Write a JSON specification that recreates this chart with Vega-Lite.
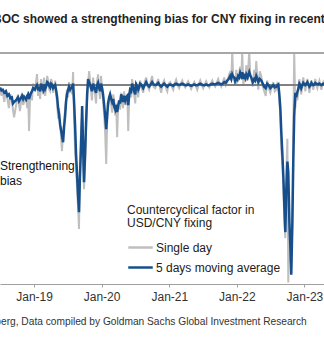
{
  "$schema": "https://vega.github.io/schema/vega-lite/v6.json",
  "autosize": "none",
  "width": 324,
  "height": 231,
  "padding": {"left": 0, "top": 53, "right": 0, "bottom": 58},
  "background": "white",
  "config": {"view": {"stroke": null}, "font": "Liberation Sans"},
  "title": {"text": "PBOC showed a strengthening bias for CNY fixing in recent months", "anchor": "start", "frame": "group", "dx": -15, "offset": 27, "fontSize": 12, "fontWeight": "bold", "font": "Liberation Sans", "color": "#222222"},
  "data": {"values": [
    {"date":"2018-07-01","g":-20,"b":-15},
    {"date":"2018-07-09","g":-70,"b":-35},
    {"date":"2018-07-16","g":-40,"b":-30},
    {"date":"2018-07-24","g":-110,"b":-50},
    {"date":"2018-08-02","g":-30,"b":-40},
    {"date":"2018-08-10","g":-90,"b":-70},
    {"date":"2018-08-18","g":-150,"b":-60},
    {"date":"2018-08-26","g":-60,"b":-85},
    {"date":"2018-09-03","g":-100,"b":-80},
    {"date":"2018-09-09","g":-160,"b":-120},
    {"date":"2018-09-15","g":-210,"b":-110},
    {"date":"2018-09-25","g":-140,"b":-100},
    {"date":"2018-10-06","g":-60,"b":-80},
    {"date":"2018-10-12","g":-130,"b":-105},
    {"date":"2018-10-17","g":-170,"b":-95},
    {"date":"2018-10-28","g":-50,"b":-70},
    {"date":"2018-11-03","g":-130,"b":-90},
    {"date":"2018-11-08","g":-110,"b":-75},
    {"date":"2018-11-19","g":-90,"b":-95},
    {"date":"2018-11-25","g":-150,"b":-70},
    {"date":"2018-11-30","g":-40,"b":-60},
    {"date":"2018-12-05","g":-300,"b":-90},
    {"date":"2018-12-10","g":-90,"b":-70},
    {"date":"2018-12-16","g":-50,"b":-50},
    {"date":"2018-12-21","g":-100,"b":-40},
    {"date":"2018-12-27","g":10,"b":-20},
    {"date":"2019-01-06","g":-40,"b":-30},
    {"date":"2019-01-12","g":20,"b":-10},
    {"date":"2019-01-17","g":72,"b":0},
    {"date":"2019-01-23","g":-70,"b":-25},
    {"date":"2019-01-28","g":-30,"b":-20},
    {"date":"2019-02-03","g":-90,"b":-40},
    {"date":"2019-02-08","g":40,"b":10},
    {"date":"2019-02-14","g":-20,"b":-15},
    {"date":"2019-02-19","g":-60,"b":-30},
    {"date":"2019-02-24","g":50,"b":5},
    {"date":"2019-03-02","g":-70,"b":-25},
    {"date":"2019-03-07","g":-20,"b":-10},
    {"date":"2019-03-13","g":60,"b":20},
    {"date":"2019-03-18","g":30,"b":15},
    {"date":"2019-03-24","g":-30,"b":-5},
    {"date":"2019-03-29","g":-40,"b":-15},
    {"date":"2019-04-03","g":40,"b":10},
    {"date":"2019-04-08","g":20,"b":5},
    {"date":"2019-04-14","g":-50,"b":-20},
    {"date":"2019-04-19","g":-20,"b":-10},
    {"date":"2019-04-25","g":30,"b":0},
    {"date":"2019-04-30","g":-60,"b":-30},
    {"date":"2019-05-06","g":-120,"b":-80},
    {"date":"2019-05-11","g":-220,"b":-150},
    {"date":"2019-05-16","g":-150,"b":-190},
    {"date":"2019-05-22","g":-250,"b":-260},
    {"date":"2019-06-01","g":-431,"b":-330},
    {"date":"2019-06-07","g":-300,"b":-373},
    {"date":"2019-06-12","g":-250,"b":-280},
    {"date":"2019-06-18","g":-150,"b":-200},
    {"date":"2019-06-23","g":-90,"b":-110},
    {"date":"2019-06-28","g":-30,"b":-60},
    {"date":"2019-07-04","g":-80,"b":-30},
    {"date":"2019-07-09","g":20,"b":-10},
    {"date":"2019-07-15","g":-50,"b":-30},
    {"date":"2019-07-20","g":-20,"b":-20},
    {"date":"2019-07-26","g":-60,"b":-10},
    {"date":"2019-07-31","g":85,"b":10},
    {"date":"2019-08-05","g":-200,"b":-100},
    {"date":"2019-08-11","g":-450,"b":-270},
    {"date":"2019-08-16","g":-520,"b":-450},
    {"date":"2019-08-22","g":-700,"b":-600},
    {"date":"2019-08-27","g":-800,"b":-720},
    {"date":"2019-09-01","g":-941,"b":-830},
    {"date":"2019-09-06","g":-500,"b":-600},
    {"date":"2019-09-12","g":-300,"b":-400},
    {"date":"2019-09-18","g":-200,"b":-137},
    {"date":"2019-09-23","g":-450,"b":-400},
    {"date":"2019-09-28","g":-680,"b":-634},
    {"date":"2019-10-04","g":-500,"b":-450},
    {"date":"2019-10-09","g":-300,"b":-250},
    {"date":"2019-10-15","g":-80,"b":-60},
    {"date":"2019-10-20","g":20,"b":39},
    {"date":"2019-10-26","g":92,"b":20},
    {"date":"2019-11-05","g":-40,"b":-20},
    {"date":"2019-11-10","g":-100,"b":-40},
    {"date":"2019-11-16","g":50,"b":10},
    {"date":"2019-11-21","g":-10,"b":-10},
    {"date":"2019-11-27","g":-60,"b":-30},
    {"date":"2019-12-02","g":-120,"b":-50},
    {"date":"2019-12-08","g":30,"b":0},
    {"date":"2019-12-13","g":70,"b":15},
    {"date":"2019-12-19","g":-40,"b":-20},
    {"date":"2019-12-24","g":-90,"b":-40},
    {"date":"2019-12-29","g":60,"b":10},
    {"date":"2020-01-04","g":-30,"b":-20},
    {"date":"2020-01-09","g":-100,"b":-60},
    {"date":"2020-01-15","g":-200,"b":-130},
    {"date":"2020-01-20","g":-300,"b":-200},
    {"date":"2020-01-26","g":-516,"b":-288},
    {"date":"2020-01-31","g":-250,"b":-200},
    {"date":"2020-02-05","g":-150,"b":-120},
    {"date":"2020-02-11","g":-100,"b":-80},
    {"date":"2020-02-16","g":-60,"b":-60},
    {"date":"2020-02-22","g":-130,"b":-90},
    {"date":"2020-02-27","g":-180,"b":-110},
    {"date":"2020-03-04","g":-60,"b":-90},
    {"date":"2020-03-09","g":-100,"b":-140},
    {"date":"2020-03-15","g":-200,"b":-160},
    {"date":"2020-03-20","g":-120,"b":-130},
    {"date":"2020-03-25","g":-340,"b":-176},
    {"date":"2020-03-30","g":-150,"b":-140},
    {"date":"2020-04-05","g":-100,"b":-100},
    {"date":"2020-04-10","g":-160,"b":-120},
    {"date":"2020-04-16","g":-50,"b":-60},
    {"date":"2020-04-21","g":-90,"b":-80},
    {"date":"2020-04-26","g":-150,"b":-110},
    {"date":"2020-05-02","g":-40,"b":-70},
    {"date":"2020-05-08","g":-130,"b":-100},
    {"date":"2020-05-13","g":-100,"b":-80},
    {"date":"2020-05-19","g":-60,"b":-70},
    {"date":"2020-05-24","g":-300,"b":-130},
    {"date":"2020-05-29","g":-90,"b":-70},
    {"date":"2020-06-03","g":-20,"b":-30},
    {"date":"2020-06-09","g":-80,"b":-40},
    {"date":"2020-06-14","g":40,"b":10},
    {"date":"2020-06-20","g":-20,"b":-10},
    {"date":"2020-06-25","g":-60,"b":-40},
    {"date":"2020-07-01","g":-120,"b":-60},
    {"date":"2020-07-06","g":20,"b":5},
    {"date":"2020-07-12","g":-30,"b":-10},
    {"date":"2020-07-17","g":-80,"b":-30},
    {"date":"2020-07-22","g":-10,"b":-15},
    {"date":"2020-07-27","g":30,"b":10},
    {"date":"2020-08-05","g":-20,"b":0},
    {"date":"2020-08-13","g":-50,"b":-20},
    {"date":"2020-08-21","g":20,"b":0},
    {"date":"2020-08-29","g":50,"b":20},
    {"date":"2020-09-06","g":-10,"b":0},
    {"date":"2020-09-14","g":-30,"b":-10},
    {"date":"2020-09-22","g":20,"b":5},
    {"date":"2020-09-30","g":60,"b":20},
    {"date":"2020-10-08","g":-10,"b":5},
    {"date":"2020-10-17","g":-20,"b":0},
    {"date":"2020-10-25","g":10,"b":5},
    {"date":"2020-11-02","g":40,"b":15},
    {"date":"2020-11-10","g":-10,"b":0},
    {"date":"2020-11-18","g":-50,"b":-10},
    {"date":"2020-11-26","g":10,"b":0},
    {"date":"2020-12-04","g":30,"b":10},
    {"date":"2020-12-12","g":-10,"b":0},
    {"date":"2020-12-21","g":-40,"b":-10},
    {"date":"2020-12-29","g":10,"b":0},
    {"date":"2021-01-06","g":20,"b":5},
    {"date":"2021-01-14","g":-10,"b":0},
    {"date":"2021-01-22","g":-30,"b":-5},
    {"date":"2021-01-30","g":10,"b":5},
    {"date":"2021-02-07","g":35,"b":10},
    {"date":"2021-02-15","g":0,"b":5},
    {"date":"2021-02-23","g":-20,"b":0},
    {"date":"2021-03-03","g":10,"b":5},
    {"date":"2021-03-12","g":30,"b":10},
    {"date":"2021-03-20","g":0,"b":5},
    {"date":"2021-03-28","g":-15,"b":0},
    {"date":"2021-04-05","g":10,"b":0},
    {"date":"2021-04-13","g":25,"b":5},
    {"date":"2021-04-21","g":0,"b":0},
    {"date":"2021-04-29","g":-25,"b":-5},
    {"date":"2021-05-08","g":0,"b":0},
    {"date":"2021-05-16","g":20,"b":5},
    {"date":"2021-05-24","g":-5,"b":0},
    {"date":"2021-06-01","g":-30,"b":0},
    {"date":"2021-06-09","g":5,"b":5},
    {"date":"2021-06-17","g":30,"b":10},
    {"date":"2021-06-25","g":0,"b":5},
    {"date":"2021-07-03","g":-20,"b":0},
    {"date":"2021-07-11","g":5,"b":0},
    {"date":"2021-07-19","g":25,"b":5},
    {"date":"2021-07-27","g":0,"b":0},
    {"date":"2021-08-05","g":-15,"b":0},
    {"date":"2021-08-13","g":10,"b":5},
    {"date":"2021-08-21","g":30,"b":10},
    {"date":"2021-08-29","g":5,"b":5},
    {"date":"2021-09-06","g":-10,"b":5},
    {"date":"2021-09-14","g":15,"b":10},
    {"date":"2021-09-22","g":40,"b":15},
    {"date":"2021-09-30","g":10,"b":10},
    {"date":"2021-10-09","g":-10,"b":5},
    {"date":"2021-10-17","g":20,"b":10},
    {"date":"2021-10-25","g":50,"b":20},
    {"date":"2021-11-02","g":0,"b":15},
    {"date":"2021-11-10","g":20,"b":30},
    {"date":"2021-11-18","g":60,"b":40},
    {"date":"2021-11-26","g":90,"b":60},
    {"date":"2021-12-02","g":30,"b":40},
    {"date":"2021-12-07","g":220,"b":70},
    {"date":"2021-12-12","g":60,"b":55},
    {"date":"2021-12-18","g":40,"b":50},
    {"date":"2021-12-23","g":0,"b":25},
    {"date":"2021-12-29","g":100,"b":40},
    {"date":"2022-01-03","g":20,"b":35},
    {"date":"2022-01-08","g":30,"b":60},
    {"date":"2022-01-14","g":80,"b":50},
    {"date":"2022-01-19","g":120,"b":80},
    {"date":"2022-01-25","g":40,"b":60},
    {"date":"2022-01-30","g":220,"b":85},
    {"date":"2022-02-05","g":0,"b":40},
    {"date":"2022-02-10","g":50,"b":60},
    {"date":"2022-02-16","g":20,"b":45},
    {"date":"2022-02-21","g":130,"b":70},
    {"date":"2022-02-28","g":30,"b":50},
    {"date":"2022-03-09","g":220,"b":85},
    {"date":"2022-03-14","g":80,"b":65},
    {"date":"2022-03-20","g":40,"b":50},
    {"date":"2022-03-28","g":-10,"b":20},
    {"date":"2022-04-05","g":100,"b":40},
    {"date":"2022-04-10","g":20,"b":30},
    {"date":"2022-04-16","g":157,"b":60},
    {"date":"2022-04-21","g":60,"b":45},
    {"date":"2022-04-27","g":-30,"b":20},
    {"date":"2022-05-05","g":90,"b":40},
    {"date":"2022-05-13","g":60,"b":30},
    {"date":"2022-05-21","g":-10,"b":10},
    {"date":"2022-05-29","g":-40,"b":-10},
    {"date":"2022-06-06","g":-70,"b":-20},
    {"date":"2022-06-14","g":30,"b":10},
    {"date":"2022-06-22","g":-20,"b":0},
    {"date":"2022-07-01","g":-50,"b":-20},
    {"date":"2022-07-09","g":-10,"b":-10},
    {"date":"2022-07-17","g":20,"b":0},
    {"date":"2022-07-25","g":-40,"b":-15},
    {"date":"2022-08-02","g":-30,"b":-10},
    {"date":"2022-08-08","g":10,"b":0},
    {"date":"2022-08-13","g":0,"b":5},
    {"date":"2022-08-18","g":-90,"b":-50},
    {"date":"2022-08-24","g":-200,"b":-150},
    {"date":"2022-08-29","g":-420,"b":-300},
    {"date":"2022-09-04","g":-500,"b":-450},
    {"date":"2022-09-10","g":-700,"b":-620},
    {"date":"2022-09-15","g":-900,"b":-800},
    {"date":"2022-09-20","g":-1000,"b":-961},
    {"date":"2022-09-25","g":-600,"b":-700},
    {"date":"2022-10-01","g":-350,"b":-500},
    {"date":"2022-10-06","g":-1290,"b":-569},
    {"date":"2022-10-12","g":-900,"b":-900},
    {"date":"2022-10-17","g":-1100,"b":-1050},
    {"date":"2022-10-22","g":-1200,"b":-1240},
    {"date":"2022-10-28","g":-900,"b":-900},
    {"date":"2022-11-02","g":-300,"b":-500},
    {"date":"2022-11-07","g":220,"b":-200},
    {"date":"2022-11-13","g":-150,"b":-50},
    {"date":"2022-11-18","g":-60,"b":-80},
    {"date":"2022-11-24","g":-100,"b":-45},
    {"date":"2022-11-30","g":-10,"b":-20},
    {"date":"2022-12-05","g":40,"b":10},
    {"date":"2022-12-10","g":-20,"b":0},
    {"date":"2022-12-15","g":-60,"b":-20},
    {"date":"2022-12-21","g":10,"b":0},
    {"date":"2022-12-26","g":50,"b":15},
    {"date":"2023-01-01","g":0,"b":5},
    {"date":"2023-01-06","g":-40,"b":0},
    {"date":"2023-01-12","g":10,"b":10},
    {"date":"2023-01-17","g":40,"b":20},
    {"date":"2023-01-23","g":0,"b":5},
    {"date":"2023-01-28","g":-50,"b":-10},
    {"date":"2023-02-03","g":0,"b":0},
    {"date":"2023-02-08","g":30,"b":15},
    {"date":"2023-02-13","g":0,"b":5},
    {"date":"2023-02-18","g":-30,"b":0},
    {"date":"2023-02-24","g":10,"b":5},
    {"date":"2023-03-01","g":40,"b":15},
    {"date":"2023-03-06","g":0,"b":10},
    {"date":"2023-03-12","g":-20,"b":5},
    {"date":"2023-03-17","g":10,"b":5},
    {"date":"2023-03-23","g":30,"b":10},
    {"date":"2023-03-28","g":0,"b":5},
    {"date":"2023-04-03","g":-30,"b":0},
    {"date":"2023-04-08","g":0,"b":5},
    {"date":"2023-04-13","g":20,"b":10},
    {"date":"2023-04-24","g":-10,"b":5}
  ]},
  "encoding": {
    "x": {"field": "date", "type": "temporal",
      "scale": {"domain": [{"year": 2018, "month": 7, "date": 1}, {"year": 2023, "month": 4, "date": 17}]},
      "axis": {"format": "%b-%y", "tickCount": {"interval": "year", "step": 1}, "grid": false,
        "domainColor": "#a0a0a0", "tickColor": "#a0a0a0", "tickSize": 3, "labelPadding": 4,
        "labelFontSize": 12, "labelColor": "#333333", "labelFont": "Liberation Sans",
        "title": "Source: Bloomberg, Data compiled by Goldman Sachs Global Investment Research",
        "titleAnchor": "start", "titleAlign": "left", "titleX": -72, "titleY": 37, "titleBaseline": "middle",
        "titleFontSize": 10.2, "titleFontWeight": "normal", "titleColor": "#333333", "titleFont": "Liberation Sans"}},
    "y": {"type": "quantitative", "scale": {"domain": [-1300, 210], "nice": false, "zero": false}, "axis": null}
  },
  "layer": [
    {"mark": {"type": "line", "clip": true, "strokeWidth": 2, "interpolate": "linear"},
     "encoding": {"y": {"field": "g", "type": "quantitative"},
       "color": {"datum": "Single day", "type": "nominal",
         "scale": {"domain": ["Single day", "5 days moving average"], "range": ["#bfbfbf", "#174f8c"]},
         "legend": {"orient": "none", "legendX": 127, "legendY": 152, "title": ["Countercyclical factor in", "USD/CNY fixing"],
           "titleFontSize": 12, "titleFontWeight": "normal", "titleColor": "#222222", "titleFont": "Liberation Sans", "titleLineHeight": 13, "titlePadding": 4,
           "labelFontSize": 12, "labelColor": "#222222", "labelFont": "Liberation Sans", "labelOffset": 2,
           "symbolType": "stroke", "symbolSize": 600, "symbolStrokeWidth": 2.5, "rowPadding": 0}}}},
    {"mark": {"type": "rule", "color": "#808080", "strokeWidth": 1}, "encoding": {"y": {"datum": 0}, "x": {"value": 0}, "x2": {"value": 324}}},
    {"mark": {"type": "rule", "color": "#a6a6a6", "strokeWidth": 1}, "encoding": {"y": {"datum": 210}, "x": {"value": 0}, "x2": {"value": 324}}},
    {"mark": {"type": "line", "clip": true, "strokeWidth": 2.5, "interpolate": "linear"},
     "encoding": {"y": {"field": "b", "type": "quantitative"}, "color": {"datum": "5 days moving average", "type": "nominal"}}},
    {"data": {"values": [{"date": "2018-07-01", "v": -530, "t": "Strengthening"}, {"date": "2018-07-01", "v": -628, "t": "bias"}]},
     "mark": {"type": "text", "align": "left", "baseline": "middle", "fontSize": 12, "font": "Liberation Sans", "color": "#111111"},
     "encoding": {"y": {"field": "v", "type": "quantitative"}, "text": {"field": "t"}}}
  ]
}
